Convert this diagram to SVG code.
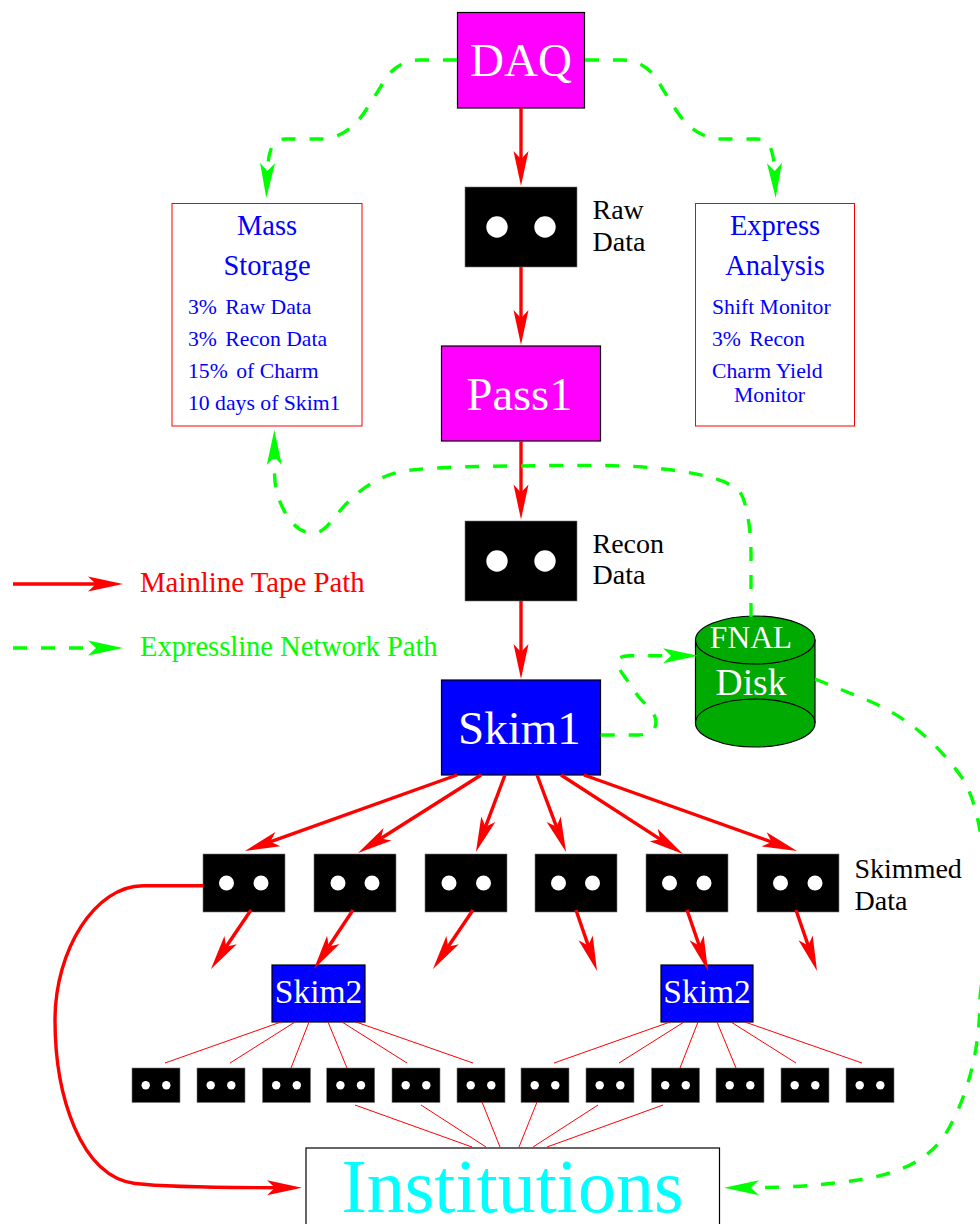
<svg xmlns="http://www.w3.org/2000/svg" width="980" height="1224" viewBox="0 0 980 1224">
<style>
text{font-family:"Liberation Serif","Times New Roman",serif}
.m{text-anchor:middle}
.w{fill:#fff}
.b{fill:#00f}
.k{fill:#000}
.box{stroke:#000;stroke-width:1.2}
.tape{fill:#000;stroke:#777;stroke-width:.6}
.hole{fill:#fff}
.info{fill:#fff;stroke:#f00;stroke-width:1}
.red{fill:none;stroke:#f00;stroke-width:3.4}
.thin{fill:none;stroke:#f00;stroke-width:1}
.green{fill:none;stroke:#0f0;stroke-width:3.4;stroke-dasharray:14 14}
.l{font-size:28px}
.s{font-size:21.7px}
.h{font-size:28.5px}
</style>
<defs>
<marker id="ar" markerUnits="userSpaceOnUse" markerWidth="40" markerHeight="20" refX="15" refY="8" orient="auto" overflow="visible"><path d="M0,0.5 L35,8 L0,15.5 L8,8 Z" fill="#f00"/></marker>
<marker id="ag" markerUnits="userSpaceOnUse" markerWidth="40" markerHeight="20" refX="15" refY="8" orient="auto" overflow="visible"><path d="M0,0.5 L35,8 L0,15.5 L8,8 Z" fill="#0f0"/></marker>
</defs>
<g id="daq"><rect class="box" x="457.500" y="12.500" width="127" height="95.500" fill="#f0f"/><text class="m w" x="521" y="76" font-size="47">DAQ</text></g>
<g id="raw-data"><rect class="tape" x="465" y="187" width="112" height="80"/><circle class="hole" cx="497" cy="227" r="10.700"/><circle class="hole" cx="545" cy="227" r="10.700"/><text class="l k" x="592.500" y="219">Raw</text><text class="l k" x="592.500" y="251">Data</text></g>
<g id="mass-storage"><rect class="info" x="172" y="203.500" width="190" height="222.500"/>
<text class="h b m" x="267" y="235">Mass</text><text class="h b m" x="267" y="275">Storage</text>
<text class="s b" x="188" y="314">3%<tspan dx="3"> Raw Data</tspan></text><text class="s b" x="188" y="346">3%<tspan dx="3"> Recon Data</tspan></text><text class="s b" x="188" y="378">15%<tspan dx="3"> of Charm</tspan></text><text class="s b" x="188" y="410">10 days of Skim1</text></g>
<g id="express-analysis"><rect class="info" x="695.500" y="203.500" width="159" height="222.500"/>
<text class="h b m" x="775" y="235">Express</text><text class="h b m" x="775" y="275">Analysis</text>
<text class="s b" x="712" y="314">Shift Monitor</text><text class="s b" x="712" y="346">3%<tspan dx="3"> Recon</tspan></text><text class="s b" x="712" y="378">Charm Yield</text><text class="s b" x="734" y="402">Monitor</text></g>
<g id="pass1"><rect class="box" x="441.500" y="346" width="159" height="95" fill="#f0f"/><text class="m w" x="519.500" y="410" font-size="46.500">Pass1</text></g>
<g id="recon-data"><rect class="tape" x="465" y="521" width="112" height="80"/><circle class="hole" cx="497" cy="561" r="10.700"/><circle class="hole" cx="545" cy="561" r="10.700"/><text class="l k" x="592.500" y="553">Recon</text><text class="l k" x="592.500" y="584">Data</text></g>
<g id="skim1"><rect class="box" x="441.500" y="680" width="159" height="95" fill="#00f"/><text class="m w" x="519.500" y="744" font-size="47">Skim1</text></g>
<g id="fnal-disk"><path d="M695.500,640V723A59.750,24 0 0 0 815,723V640Z" fill="#0a0" stroke="#000" stroke-width="1.200"/><ellipse cx="755.200" cy="640" rx="59.700" ry="24" fill="#0a0" stroke="#000" stroke-width="1.200"/><path d="M695.500,723A59.750,24 0 0 1 815,723" fill="none" stroke="#000" stroke-width="1.200"/><text class="m w" x="751" y="648" font-size="31.500">FNAL</text><text class="m w" x="751" y="695" font-size="37.500">Disk</text></g>
<g id="legend"><text x="140" y="592" font-size="28.800" fill="#f00">Mainline Tape Path</text><text x="140" y="656" font-size="28.500" fill="#0f0">Expressline Network Path</text></g>
<g id="tape-1"><rect class="tape" x="203" y="854" width="82" height="58"/><circle class="hole" cx="226.500" cy="883" r="7.500"/><circle class="hole" cx="261" cy="883" r="7.500"/></g>
<g id="tape-2"><rect class="tape" x="314" y="854" width="82" height="58"/><circle class="hole" cx="338" cy="883" r="7.500"/><circle class="hole" cx="372" cy="883" r="7.500"/></g>
<g id="tape-3"><rect class="tape" x="425" y="854" width="82" height="58"/><circle class="hole" cx="449" cy="883" r="7.500"/><circle class="hole" cx="483.500" cy="883" r="7.500"/></g>
<g id="tape-4"><rect class="tape" x="535" y="854" width="82" height="58"/><circle class="hole" cx="558.500" cy="883" r="7.500"/><circle class="hole" cx="592.500" cy="883" r="7.500"/></g>
<g id="tape-5"><rect class="tape" x="646" y="854" width="82" height="58"/><circle class="hole" cx="669.500" cy="883" r="7.500"/><circle class="hole" cx="704" cy="883" r="7.500"/></g>
<g id="tape-6"><rect class="tape" x="757" y="854" width="82" height="58"/><circle class="hole" cx="780.500" cy="883" r="7.500"/><circle class="hole" cx="815" cy="883" r="7.500"/><text class="l k" x="854.500" y="878">Skimmed</text><text class="l k" x="854.500" y="910">Data</text></g>
<g id="skim2-a"><rect class="box" x="272" y="965" width="93" height="57" fill="#00f"/><text class="m w" x="318.500" y="1003" font-size="33.500">Skim2</text></g>
<g id="skim2-b"><rect class="box" x="661" y="965" width="92" height="57" fill="#00f"/><text class="m w" x="707" y="1003" font-size="33.500">Skim2</text></g>
<g id="small-tapes">
<g id="s1"><rect class="tape" x="132" y="1068" width="48" height="34.500"/><circle class="hole" cx="145.700" cy="1085.300" r="4.200"/><circle class="hole" cx="166.300" cy="1085.300" r="4.200"/></g>
<g id="s2"><rect class="tape" x="197" y="1068" width="48" height="34.500"/><circle class="hole" cx="210.700" cy="1085.300" r="4.200"/><circle class="hole" cx="231.300" cy="1085.300" r="4.200"/></g>
<g id="s3"><rect class="tape" x="262.500" y="1068" width="48" height="34.500"/><circle class="hole" cx="276.200" cy="1085.300" r="4.200"/><circle class="hole" cx="296.800" cy="1085.300" r="4.200"/></g>
<g id="s4"><rect class="tape" x="326.700" y="1068" width="48" height="34.500"/><circle class="hole" cx="340.400" cy="1085.300" r="4.200"/><circle class="hole" cx="361" cy="1085.300" r="4.200"/></g>
<g id="s5"><rect class="tape" x="392" y="1068" width="48" height="34.500"/><circle class="hole" cx="405.700" cy="1085.300" r="4.200"/><circle class="hole" cx="426.300" cy="1085.300" r="4.200"/></g>
<g id="s6"><rect class="tape" x="457" y="1068" width="48" height="34.500"/><circle class="hole" cx="470.700" cy="1085.300" r="4.200"/><circle class="hole" cx="491.300" cy="1085.300" r="4.200"/></g>
<g id="s7"><rect class="tape" x="521" y="1068" width="48" height="34.500"/><circle class="hole" cx="534.700" cy="1085.300" r="4.200"/><circle class="hole" cx="555.300" cy="1085.300" r="4.200"/></g>
<g id="s8"><rect class="tape" x="586" y="1068" width="48" height="34.500"/><circle class="hole" cx="599.700" cy="1085.300" r="4.200"/><circle class="hole" cx="620.300" cy="1085.300" r="4.200"/></g>
<g id="s9"><rect class="tape" x="651.500" y="1068" width="48" height="34.500"/><circle class="hole" cx="665.200" cy="1085.300" r="4.200"/><circle class="hole" cx="685.800" cy="1085.300" r="4.200"/></g>
<g id="s10"><rect class="tape" x="716" y="1068" width="48" height="34.500"/><circle class="hole" cx="729.700" cy="1085.300" r="4.200"/><circle class="hole" cx="750.300" cy="1085.300" r="4.200"/></g>
<g id="s11"><rect class="tape" x="781" y="1068" width="48" height="34.500"/><circle class="hole" cx="794.700" cy="1085.300" r="4.200"/><circle class="hole" cx="815.300" cy="1085.300" r="4.200"/></g>
<g id="s12"><rect class="tape" x="846" y="1068" width="48" height="34.500"/><circle class="hole" cx="859.700" cy="1085.300" r="4.200"/><circle class="hole" cx="880.300" cy="1085.300" r="4.200"/></g>
</g>
<g id="institutions"><rect x="306" y="1148" width="413.500" height="90" fill="#fff" stroke="#000" stroke-width="1.200"/><text class="m" x="512.500" y="1211.500" font-size="76" fill="#0ff">Institutions</text></g>
<g id="connectors">
<path class="red" marker-end="url(#ar)" d="M521,108V166"/>
<path class="red" marker-end="url(#ar)" d="M521,267V325"/>
<path class="red" marker-end="url(#ar)" d="M521,441V499.500"/>
<path class="red" marker-end="url(#ar)" d="M521,601V659"/>
<path class="red" marker-end="url(#ar)" d="M457,775L263.800,844.200"/>
<path class="red" marker-end="url(#ar)" d="M481,775L374.900,842.300"/>
<path class="red" marker-end="url(#ar)" d="M505,775L483,833.300"/>
<path class="red" marker-end="url(#ar)" d="M537,775L559,833.300"/>
<path class="red" marker-end="url(#ar)" d="M561,775L666.200,843.100"/>
<path class="red" marker-end="url(#ar)" d="M584,775L778.200,844.300"/>
<path class="red" marker-end="url(#ar)" d="M251,910L222.200,952.500"/>
<path class="red" marker-end="url(#ar)" d="M353,910L325,952.300"/>
<path class="red" marker-end="url(#ar)" d="M473,910L444.200,952.500"/>
<path class="red" marker-end="url(#ar)" d="M576,910L590.500,952.100"/>
<path class="red" marker-end="url(#ar)" d="M687,910L701.500,952.100"/>
<path class="red" marker-end="url(#ar)" d="M796,910L810.500,952.100"/>
<path class="red" marker-end="url(#ar)" d="M203,885.700H143C95,885.700 55,950 55,1020C55,1095 80,1176 135,1183.500C165,1187 215,1187.700 282,1187.700"/>
<path class="red" marker-end="url(#ar)" d="M13,584H103"/>
<path class="thin" d="M281,1022L165,1063M295,1022L230,1063M309,1022L291,1068M328,1022L347,1068M342,1022L407,1063M356,1022L473,1063"/>
<path class="thin" d="M670,1022L554,1063M684,1022L619,1063M698,1022L680,1068M717,1022L736,1068M731,1022L796,1063M745,1022L862,1063"/>
<path class="thin" d="M355,1105L472,1147M421,1105L486,1147M482,1102L500,1147M537,1102L519,1147M598,1105L533,1147M663,1105L547,1147"/>
<path class="green" marker-end="url(#ag)" d="M457,60H420C400,60 388,72 380,88L366,110C355,127 340,139 320,139H285C272,139 268,150 267,178"/>
<path class="green" marker-end="url(#ag)" d="M585,60H622C642,60 654,72 662,88L676,110C687,127 702,139 722,139H757C770,139 774,150 775,178"/>
<path class="green" marker-end="url(#ag)" d="M751,617V553C751,525 745,495 738,490C725,478 690,471 643,467C620,465 560,465 520,466C470,466 420,468 405,471C385,474 365,484 345,505C330,522 325,533 313,533C295,533 285,515 278,497C274,485 274.300,470 274.300,450"/>
<path class="green" marker-end="url(#ag)" d="M600.700,735H637C650,735 656,730 656,722C656,712 645,705 638,696L622,673C615,663 615,656 630,655.700H678"/>
<path class="green" marker-end="url(#ag)" d="M815,679L867,700C905,716 935,740 963,779C985,815 992,900 980,997C980,1040 972,1090 945,1135C925,1165 890,1175 858,1180C830,1184 800,1187.700 744,1187.700"/>
<path class="green" marker-end="url(#ag)" d="M13,648H103"/>
</g>
</svg>
